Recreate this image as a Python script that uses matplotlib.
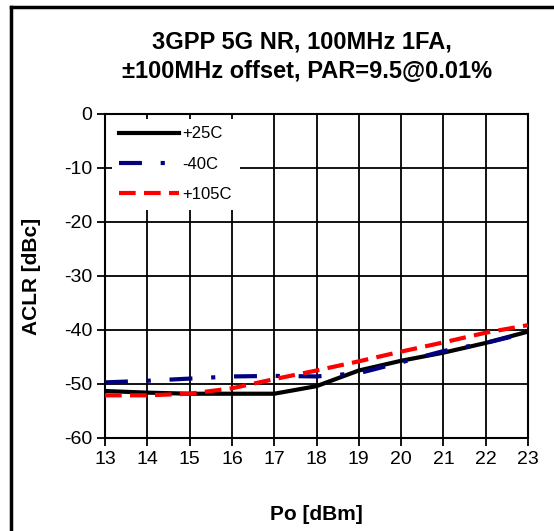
import matplotlib
matplotlib.use("Agg")
import matplotlib.pyplot as plt
from matplotlib.lines import Line2D

plt.rcParams['font.family'] = ['Liberation Sans', 'DejaVu Sans']
plt.rcParams['axes.unicode_minus'] = False

po = [13, 14, 15, 16, 17, 18, 19, 20, 21, 22, 23]
aclr_25c = [-51.3, -51.6, -51.8, -51.8, -51.8, -50.4, -47.5, -45.7, -44.2, -42.4, -40.3]
aclr_m40c = [-49.7, -49.4, -49.0, -48.6, -48.5, -48.6, -48.0, -46.0, -43.9, -42.4, -40.5]
aclr_105c = [-52.1, -52.1, -51.8, -50.8, -49.1, -47.5, -45.8, -44.0, -42.3, -40.5, -39.1]
series_labels = ['+25C', '-40C', '+105C']
title_lines = ['3GPP 5G NR, 100MHz 1FA,', '\u00b1100MHz offset, PAR=9.5@0.01%']
xticks = list(range(13, 24))
yticks = [0, -10, -20, -30, -40, -50, -60]

W, H = 554, 531
fig = plt.figure(figsize=(W / 100, H / 100), dpi=100)

# outer frame (partially cropped on right/bottom)
fig.add_artist(Line2D([11 / W, 1.0], [1 - 7 / H, 1 - 7 / H], color='black', lw=2.5,
                      transform=fig.transFigure))
fig.add_artist(Line2D([11 / W, 11 / W], [0, 1 - 7 / H], color='black', lw=2.5,
                      transform=fig.transFigure))

ax = fig.add_axes([105 / W, 1 - 438 / H, (528 - 105) / W, (438 - 114) / H])

ax.plot(po, aclr_25c, color='black', lw=3, label=series_labels[0], zorder=3)
ax.plot(po, aclr_m40c, color='#000080', lw=3, dashes=(5.5, 4.5, 1, 4.5), label=series_labels[1], zorder=3)
ax.plot(po, aclr_105c, color='#ff0000', lw=3, dashes=(4, 2), label=series_labels[2], zorder=4)

ax.set_xlim(13, 23)
ax.set_ylim(-60, 0)
ax.set_xticks(xticks)
ax.set_yticks(yticks)
ax.grid(True, color='black', lw=1.3)
ax.set_axisbelow(True)
for s in ax.spines.values():
    s.set_color('black')
    s.set_linewidth(1.5)
ax.tick_params(direction='out', length=6, width=1.3, labelsize=14, pad=3, colors='black')

ax.set_xlabel('Po [dBm]', fontsize=15, fontweight='bold', labelpad=27)
ax.set_ylabel('ACLR [dBc]', fontsize=15, fontweight='bold', labelpad=17)

leg = ax.legend(loc='upper left', bbox_to_anchor=(0.012, 0.99), frameon=True, fontsize=12,
                handlelength=3.6, handletextpad=0.2, labelspacing=0.92, borderpad=0.45,
                borderaxespad=0.1)
leg.get_frame().set_facecolor('white')
leg.get_frame().set_edgecolor('none')
leg.get_frame().set_alpha(1)
leg.get_frame().set_boxstyle('square', pad=0)

fig.text(302 / W, 1 - 42 / H, title_lines[0], ha='center', va='center', fontsize=17, fontweight='bold')
fig.text(307 / W, 1 - 72 / H, title_lines[1], ha='center', va='center', fontsize=17, fontweight='bold')

fig.savefig('out.png', dpi=100)
